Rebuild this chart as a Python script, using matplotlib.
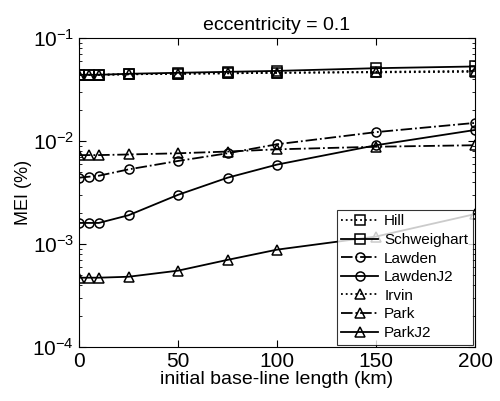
import matplotlib
matplotlib.use("Agg")
import matplotlib.pyplot as plt

# initial base-line length (km)
x = [0, 5, 10, 25, 50, 75, 100, 150, 200]

hill = [0.044, 0.044, 0.044, 0.0445, 0.045, 0.0455, 0.046, 0.047, 0.048]
schweighart = [0.044, 0.044, 0.044, 0.045, 0.046, 0.047, 0.048, 0.051, 0.053]
lawden = [0.0044, 0.0045, 0.0046, 0.0053, 0.0064, 0.0076, 0.0093, 0.0122, 0.015]
lawden_j2 = [0.0016, 0.0016, 0.0016, 0.0019, 0.003, 0.0044, 0.0059, 0.0091, 0.0128]
irvin = [0.044, 0.044, 0.044, 0.0445, 0.045, 0.0455, 0.046, 0.0465, 0.047]
park = [0.0073, 0.0073, 0.0073, 0.0074, 0.0076, 0.0079, 0.0083, 0.0088, 0.0091]
park_j2 = [0.00047, 0.00047, 0.00047, 0.00048, 0.00055, 0.0007, 0.00088, 0.00118, 0.00195]

series = [
    ("Hill", hill, ":", "s"),
    ("Schweighart", schweighart, "-", "s"),
    ("Lawden", lawden, "-.", "o"),
    ("LawdenJ2", lawden_j2, "-", "o"),
    ("Irvin", irvin, ":", "^"),
    ("Park", park, "-.", "^"),
    ("ParkJ2", park_j2, "-", "^"),
]

plt.rcParams['font.family'] = ['Liberation Sans', 'DejaVu Sans']

fig = plt.figure(figsize=(5, 4.01), dpi=100)
ax = fig.add_axes([0.158, 0.135, 0.792, 0.77])

for name, vals, ls, mk in series:
    ax.plot(x, vals, linestyle=ls, marker=mk, color="black", lw=1.3,
            markersize=6.5, markerfacecolor="none", markeredgewidth=1.1, label=name)

ax.set_yscale("log")
ax.set_xlim(0, 200)
ax.set_ylim(1e-4, 1e-1)
ax.set_xticks([0, 50, 100, 150, 200])
ax.tick_params(axis="both", which="both", direction="in", top=True, right=True)
ax.tick_params(axis="both", which="major", labelsize=15, length=5)
ax.tick_params(axis="both", which="minor", length=2.5)

ax.set_title("eccentricity = 0.1", fontsize=14, pad=6)
ax.set_xlabel("initial base-line length (km)", fontsize=14, labelpad=0)
ax.set_ylabel("MEI (%)", fontsize=13, labelpad=0)

leg = ax.legend(loc="lower right", fontsize=11, frameon=True, fancybox=False,
                edgecolor="black", handlelength=2.4, handletextpad=0.4,
                labelspacing=0.3, borderaxespad=0.15, borderpad=0.3)
leg.get_frame().set_linewidth(0.8)

fig.savefig("out.png", dpi=100)
